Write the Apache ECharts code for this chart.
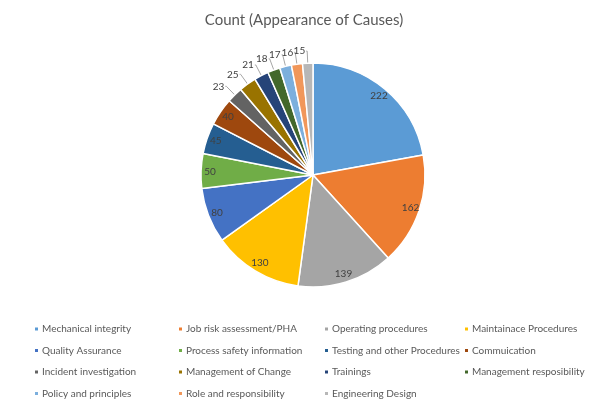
<!DOCTYPE html>
<html>
<head>
<meta charset="utf-8">
<script src="https://cdn.jsdelivr.net/npm/echarts@6/dist/echarts.min.js"></script>
<style>html,body{margin:0;padding:0;background:#fff}#c{width:608px;height:408px}</style>
</head>
<body>
<div id="c"></div>
<script>
var categories = ["Mechanical integrity","Job risk assessment/PHA","Operating procedures","Maintainace Procedures",
  "Quality Assurance","Process safety information","Testing and other Procedures","Commuication",
  "Incident investigation","Management of Change","Trainings","Management resposibility",
  "Policy and principles","Role and responsibility","Engineering Design"];
var counts = [222,162,139,130,80,50,45,40,23,25,21,18,17,16,15];
var colors = ["#5B9BD5","#ED7D31","#A5A5A5","#FFC000","#4472C4","#70AD47","#255E91","#9E480E",
  "#636363","#997300","#264478","#43682B","#7CAFDD","#F1975A","#B7B7B7"];
var titleText = "Count (Appearance of Causes)";

var FONT = "Lato, 'Open Sans', sans-serif";
var nInside = 8;
var chart = echarts.init(document.getElementById('c'), null, {renderer:'canvas'});

var baseData = categories.map(function(n,i){
  return {name:n, value:counts[i], itemStyle:{color:colors[i]},
    label:{show: i >= nInside}, labelLine:{show: i >= nInside}};
});
var ringData = categories.map(function(n,i){
  return {name:n, value:counts[i], label:{show: i < nInside}};
});

var legends = [0,1,2,3].map(function(col){
  var lefts = [28, 172, 318, 458];
  var items = [];
  categories.forEach(function(n,i){ if (i % 4 === col) items.push({name:n, itemStyle:{color:colors[i]}}); });
  return {
    data: items, orient:'vertical', left: lefts[col], top: 319, itemGap: 11.5,
    itemWidth: 5, itemHeight: 5, icon:'rect', selectedMode:false,
    textStyle:{fontSize:10, color:'#595959', fontFamily:FONT, padding:[0,0,0,-2]}
  };
});

chart.setOption({
  animation:false,
  title:{text:titleText, left:'center', top:8,
    textStyle:{fontSize:15, fontWeight:'normal', color:'#595959', fontFamily:FONT}},
  legend: legends,
  series:[
    {type:'pie', center:[313,175], radius:[0,112], startAngle:90, clockwise:true,
     avoidLabelOverlap:false,
     itemStyle:{borderColor:'#fff', borderWidth:1.5},
     label:{position:'outside', formatter:'{c}', fontSize:10, color:'#404040', fontFamily:FONT, distanceToLabelLine:1},
     labelLine:{length:12, length2:1, lineStyle:{color:'#A6A6A6', width:1}},
     data: baseData},
    {type:'pie', center:[313,175], radius:[88,112], startAngle:90, clockwise:true, silent:true,
     itemStyle:{color:'rgba(0,0,0,0)', borderWidth:0},
     label:{position:'inside', formatter:'{c}', fontSize:10, color:'#404040', fontFamily:FONT},
     labelLine:{show:false},
     data: ringData}
  ]
});
</script>
</body>
</html>
